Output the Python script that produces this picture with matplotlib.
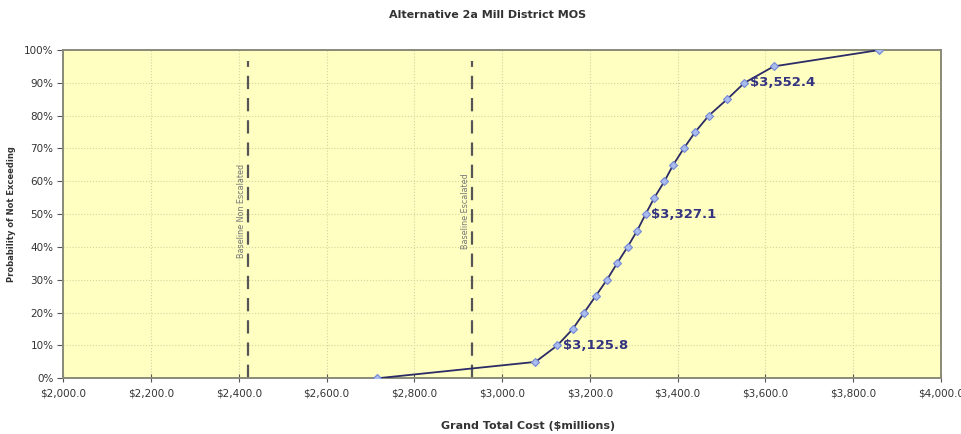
import numpy as np
import matplotlib.pyplot as plt
from matplotlib.ticker import FuncFormatter

# cumulative cost distribution
cost = [2715, 3076, 3125.8, 3161, 3187, 3213, 3239, 3262, 3286, 3308, 3327.1,
        3347, 3370, 3390, 3414, 3440, 3471, 3513, 3552.4, 3619, 3860]
prob = [0, 5, 10, 15, 20, 25, 30, 35, 40, 45, 50,
        55, 60, 65, 70, 75, 80, 85, 90, 95, 100]

labelled = [3125.8, 3327.1, 3552.4]

baselines = [2420, 2931]
baseline_names = ['Baseline Non Escalated', 'Baseline Escalated']

fig = plt.figure(figsize=(9.62, 4.34), dpi=100)
ax = fig.add_axes([0.0658, 0.1283, 0.9122, 0.7565])
ax.set_facecolor('#FFFFC2')

ax.plot(cost, prob, color='#2B2B66', lw=1.3, marker='D', ms=4.2,
        mfc='#A9BCEB', mec='#7388D6', mew=0.8, zorder=3)

for c, p in zip(cost, prob):
    if c in labelled:
        ax.text(c + 13, p, '${:,.1f}'.format(c), color='#333380',
                fontsize=9.5, fontweight='bold', va='center', ha='left', zorder=4)

for x, name in zip(baselines, baseline_names):
    ax.plot([x, x], [0, 96.5], color='#555555', lw=1.6, dashes=(6, 4), zorder=2)
    ax.text(x - 15, 51, name, rotation=90, ha='center', va='center',
            fontsize=5.8, color='#777777')

ax.set_xlim(2000, 4000)
ax.set_ylim(0, 100)
ax.set_xticks(np.arange(2000, 4001, 200))
ax.set_yticks(np.arange(0, 101, 10))
ax.xaxis.set_major_formatter(FuncFormatter(lambda v, p: '${:,.1f}'.format(v)))
ax.yaxis.set_major_formatter(FuncFormatter(lambda v, p: '{:.0f}%'.format(v)))
ax.tick_params(axis='x', direction='inout', length=6, labelsize=7.5,
               colors='#555555', pad=4)
ax.tick_params(axis='y', direction='out', length=4, labelsize=7.5,
               colors='#555555', pad=3)
for lab in ax.get_xticklabels() + ax.get_yticklabels():
    lab.set_color('#333333')

ax.grid(True, color='#D4D4A0', ls=':', lw=0.8, zorder=0)
for s in ax.spines.values():
    s.set_color('#8A8A7A')
    s.set_linewidth(1.4)

ax.set_xlabel('Grand Total Cost ($millions)', fontsize=8, fontweight='bold',
              color='#333333')
ax.xaxis.set_label_coords(0.530, -0.13)
ax.set_ylabel('Probability of Not Exceeding', fontsize=6, fontweight='bold',
              color='#333333')
ax.yaxis.set_label_coords(-0.054, 0.5)
fig.text(0.507, 0.965, 'Alternative 2a Mill District MOS', ha='center',
         va='center', fontsize=8, fontweight='bold', color='#333333')

fig.savefig('out.png', dpi=100)
